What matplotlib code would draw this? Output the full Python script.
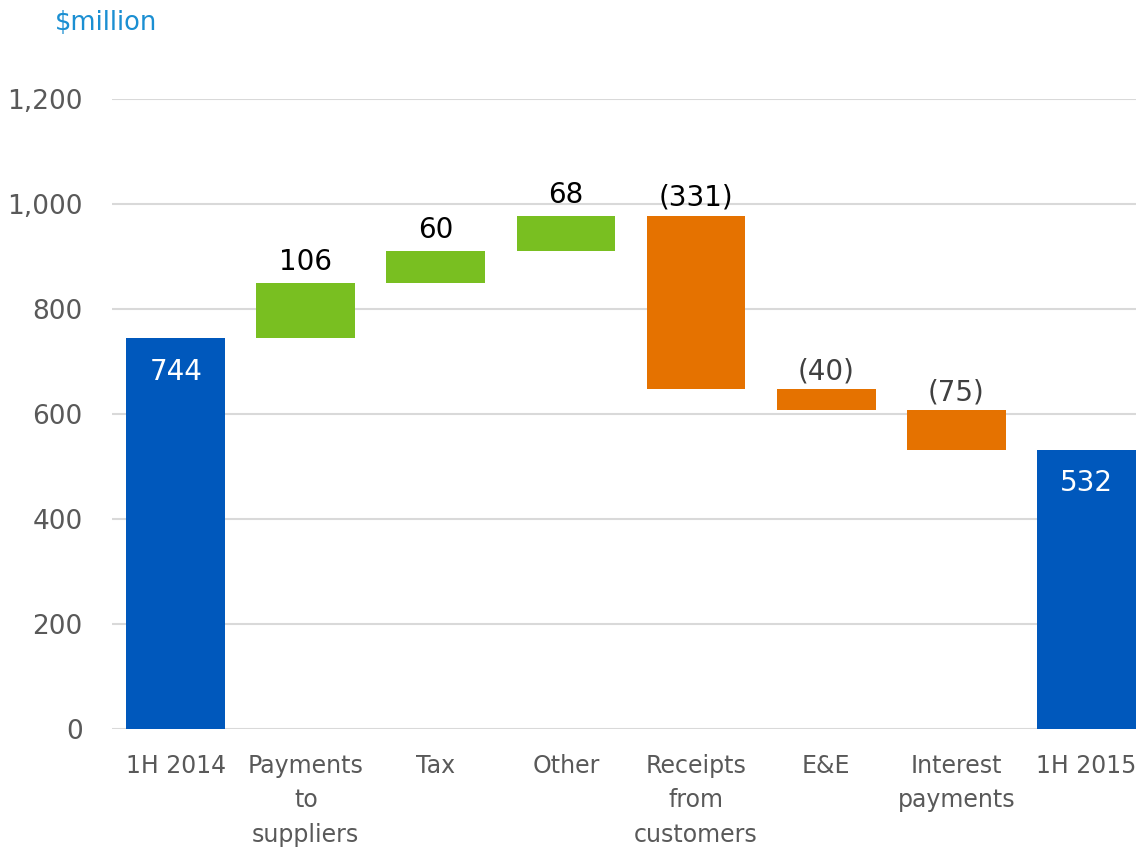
import matplotlib.pyplot as plt
import numpy as np

categories = ["1H 2014", "Payments\nto\nsuppliers", "Tax", "Other",
              "Receipts\nfrom\ncustomers", "E&E", "Interest\npayments", "1H 2015"]
changes = [744, 106, 60, 68, -331, -40, -75]
closing = 532
kinds = ["total", "up", "up", "up", "down", "down", "down", "total"]
yticks = [0, 200, 400, 600, 800, 1000, 1200]

colors = {"total": "#0058BC", "up": "#79BF21", "down": "#E57200"}

# running totals for the floating bars
bottoms, heights = [], []
level = 0
for i, c in enumerate(changes):
    if i == 0:
        bottoms.append(0)
        heights.append(c)
        level = c
    else:
        bottoms.append(min(level, level + c))
        heights.append(abs(c))
        level += c
bottoms.append(0)
heights.append(closing)

plt.rcParams['font.family'] = ['DejaVu Sans']
fig = plt.figure(figsize=(11.36, 8.49), dpi=100)
ax = fig.add_axes([112 / 1136, 1 - 729 / 849, 1038 / 1136, 630 / 849])

x = np.arange(len(categories))
ax.bar(x, heights, bottom=bottoms, width=0.76,
       color=[colors[k] for k in kinds], zorder=3)

ax.set_ylim(0, 1200)
ax.set_xlim(-0.49, len(categories) - 0.51)
ax.set_yticks(yticks)
ax.set_yticklabels([f"{v:,}" for v in yticks], fontsize=19, color="#595959")
ax.set_xticks(x)
ax.set_xticklabels(categories, fontsize=17, color="#595959", linespacing=1.55)
ax.tick_params(axis="both", length=0)
ax.tick_params(axis="y", pad=21)
ax.tick_params(axis="x", pad=18)
ax.grid(axis="y", color="#d9d9d9", linewidth=1.5, zorder=0)
for s in ax.spines.values():
    s.set_visible(False)

# value labels
for i, k in enumerate(kinds):
    top = bottoms[i] + heights[i]
    if k == "total":
        ax.annotate(str(heights[i]), (i, top), xytext=(0, -24), textcoords="offset points",
                    ha="center", va="center", fontsize=20, color="white", zorder=4)
    elif k == "up":
        ax.annotate(str(changes[i]), (i, top), xytext=(0, 5), textcoords="offset points",
                    ha="center", va="bottom", fontsize=20, color="black", zorder=4)
    else:
        col = "black" if i == 4 else "#404040"
        ax.annotate(f"({-changes[i]})", (i, top), xytext=(0, 3), textcoords="offset points",
                    ha="center", va="bottom", fontsize=20, color=col, zorder=4)

fig.text(55 / 1136, 1 - 23 / 849, "$million", fontsize=18.5, color="#1B8FD2",
         ha="left", va="center")

fig.savefig("out.png", dpi=100)
